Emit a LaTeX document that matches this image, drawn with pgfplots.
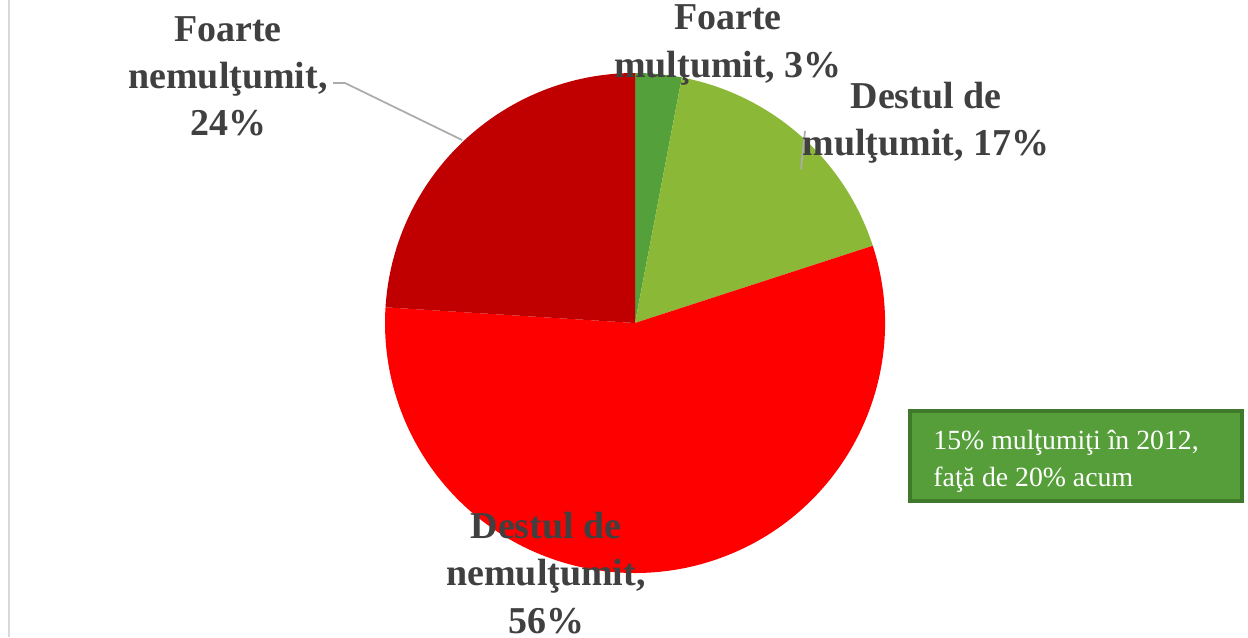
\documentclass[border=0pt]{standalone}
\usepackage{pgfplots}
\usepackage{pgfplotstable}
\pgfplotsset{compat=1.18}
\usepackage{fontspec}
\setmainfont{Liberation Serif}

\definecolor{cFM}{HTML}{54A03A}
\definecolor{cDM}{HTML}{8CB838}
\definecolor{cDN}{HTML}{FF0000}
\definecolor{cFN}{HTML}{C00000}
\definecolor{lbl}{HTML}{404040}
\definecolor{boxfill}{HTML}{559E3A}
\definecolor{boxline}{HTML}{3F7A2B}

% share of answers, clockwise from 12 o'clock
\pgfplotstableread{
label value color
FM    3     cFM
DM    17    cDM
DN    56    cDN
FN    24    cFN
}\piedata

\tikzset{lab/.style={text=lbl, align=center, font=\bfseries\fontsize{10.8}{13.4}\selectfont}}

% build the sector commands (centre 635,314 in pixel units, radius 250 = 2.5cm)
\def\piecmds{}%
\def\acc{90}%
\pgfplotstableforeachcolumnelement{value}\of\piedata\as\v{%
  \pgfplotstablegetelem{\pgfplotstablerow}{color}\of\piedata%
  \pgfmathsetmacro\nxt{\acc-3.6*\v}%
  \xdef\piecmds{\unexpanded\expandafter{\piecmds}\noexpand\fill[\pgfplotsretval] (axis cs:635,314) -- ++(\acc:2.5cm) arc[start angle=\acc,end angle=\nxt,radius=2.5cm] -- cycle;}%
  \xdef\acc{\nxt}%
}

\begin{document}
\begin{tikzpicture}
\begin{axis}[
    width=12.48cm, height=6.37cm, scale only axis,
    xmin=0, xmax=1248, ymin=0, ymax=637,
    hide axis, clip=false,
]
\coordinate (sw) at (axis cs:0,0);
\coordinate (ne) at (axis cs:1248,637);
\draw[gray!30, line width=0.8pt] (axis cs:9,0) -- (axis cs:9,637);
\piecmds
% leader lines
\draw[gray!65, line width=0.5pt] (axis cs:333,554) -- (axis cs:345,554) -- (axis cs:462,497);
\draw[gray!65, line width=0.5pt] (axis cs:805,506) -- (axis cs:801,468);
% labels
\node[lab] at (axis cs:228,561) {Foarte\\nemulţumit,\\24\%};
\node[lab] at (axis cs:728,592) {Foarte\\mulţumit, 3\%};
\node[lab] at (axis cs:926,514) {Destul de\\mulţumit, 17\%};
\node[lab] at (axis cs:546,64) {Destul de\\nemulţumit,\\56\%};
% note box
\filldraw[fill=boxfill, draw=boxline, line width=0.9pt] (axis cs:910,226) rectangle (axis cs:1242,136);
\node[anchor=west, align=left, text=white, font=\fontsize{7.9}{10.6}\selectfont] at (axis cs:921,176)
  {15\% mulţumiţi în 2012,\\faţă de 20\% acum};
\end{axis}
\pgfresetboundingbox
\path (sw) rectangle (ne);
\end{tikzpicture}
\end{document}
